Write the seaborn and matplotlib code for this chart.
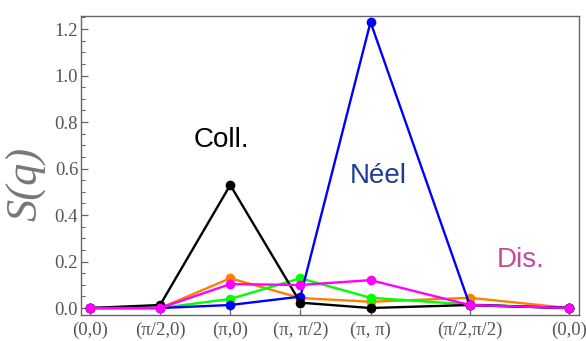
import numpy as np
import pandas as pd
import matplotlib
matplotlib.use("Agg")
import matplotlib.pyplot as plt
from matplotlib.ticker import MultipleLocator, FormatStrFormatter
import seaborn as sns

# High-symmetry k-points along the path (in units of pi)
kpoints = [(0, 0), (0.5, 0), (1, 0), (1, 0.5), (1, 1), (0.5, 0.5), (0, 0)]
klabels = ["(0,0)", "(π/2,0)", "(π,0)", "(π, π/2)", "(π, π)", "(π/2,π/2)", "(0,0)"]

# Structure factor S(q) at each k-point
s_orange = [0.0, 0.0, 0.128, 0.043, 0.027, 0.044, 0.0]
s_green = [0.0, 0.0, 0.039, 0.128, 0.044, 0.015, 0.0]
s_blue = [0.0, 0.0, 0.013, 0.049, 1.23, 0.013, 0.0]
s_black = [0.0, 0.013, 0.529, 0.023, 0.0, 0.013, 0.0]
s_magenta = [0.0, 0.0, 0.103, 0.099, 0.12, 0.013, 0.0]

series = {
    "orange": s_orange,
    "green": s_green,
    "blue": s_blue,
    "black": s_black,
    "magenta": s_magenta,
}
palette = {
    "orange": "#ff8000",
    "green": "#00ff00",
    "blue": "#0000ff",
    "black": "#000000",
    "magenta": "#ff00ff",
}

# cumulative path length along the k-path
kp = np.array(kpoints, dtype=float)
path = np.concatenate([[0.0], np.cumsum(np.hypot(*np.diff(kp, axis=0).T))])

rows = []
for name, vals in series.items():
    for x, v in zip(path, vals):
        rows.append({"path": x, "S": v, "series": name})
df = pd.DataFrame(rows)

sns.set_style("white")
fig = plt.figure(figsize=(5.86, 3.41), dpi=100)
ax = fig.add_axes([81 / 586, 1 - 315 / 341, 498 / 586, 299 / 341])

sns.lineplot(
    data=df, x="path", y="S", hue="series", hue_order=list(series.keys()),
    palette=palette, marker="o", markersize=7, markeredgewidth=0,
    linewidth=1.7, legend=False, sort=False, ax=ax,
)

ax.set_xlim(-0.064, path[-1] + 0.072)
ax.set_ylim(-0.03, 1.256)

gray = "#666666"
for sp in ax.spines.values():
    sp.set_visible(True)
    sp.set_color(gray)
    sp.set_linewidth(1.0)

ax.set_xticks(path)
ax.set_xticklabels(klabels)
ax.yaxis.set_major_locator(MultipleLocator(0.2))
ax.yaxis.set_minor_locator(MultipleLocator(0.05))
ax.yaxis.set_major_formatter(FormatStrFormatter("%.1f"))
ax.tick_params(axis="y", which="major", direction="in", length=5, width=0.9,
               color=gray, left=True, right=False, pad=2)
ax.tick_params(axis="y", which="minor", direction="in", length=3, width=0.8,
               color=gray, left=True, right=False)
ax.tick_params(axis="x", which="major", direction="in", length=4, width=0.9,
               color=gray, bottom=True, top=False, pad=5)
for lab in ax.get_xticklabels() + ax.get_yticklabels():
    lab.set_fontfamily("Liberation Serif")
    lab.set_fontsize(13.5)
    lab.set_color("#555555")

ax.set_xlabel("")
ax.set_ylabel("S(q)", fontfamily="Liberation Serif", fontstyle="italic",
              fontsize=32, color="#777777", va="center")
ax.yaxis.set_label_coords(-0.11, 0.438)

ax.text(0.934, 0.692, "Coll.", fontsize=20, color="black",
        family="Liberation Sans", ha="center", va="baseline")
ax.text(2.053, 0.538, "Néel", fontsize=20, color="#1c3c96",
        family="Liberation Sans", ha="center", va="baseline")
ax.text(3.07, 0.176, "Dis.", fontsize=20, color="#c54a9e",
        family="Liberation Sans", ha="center", va="baseline")

fig.savefig("out.png", dpi=100)
